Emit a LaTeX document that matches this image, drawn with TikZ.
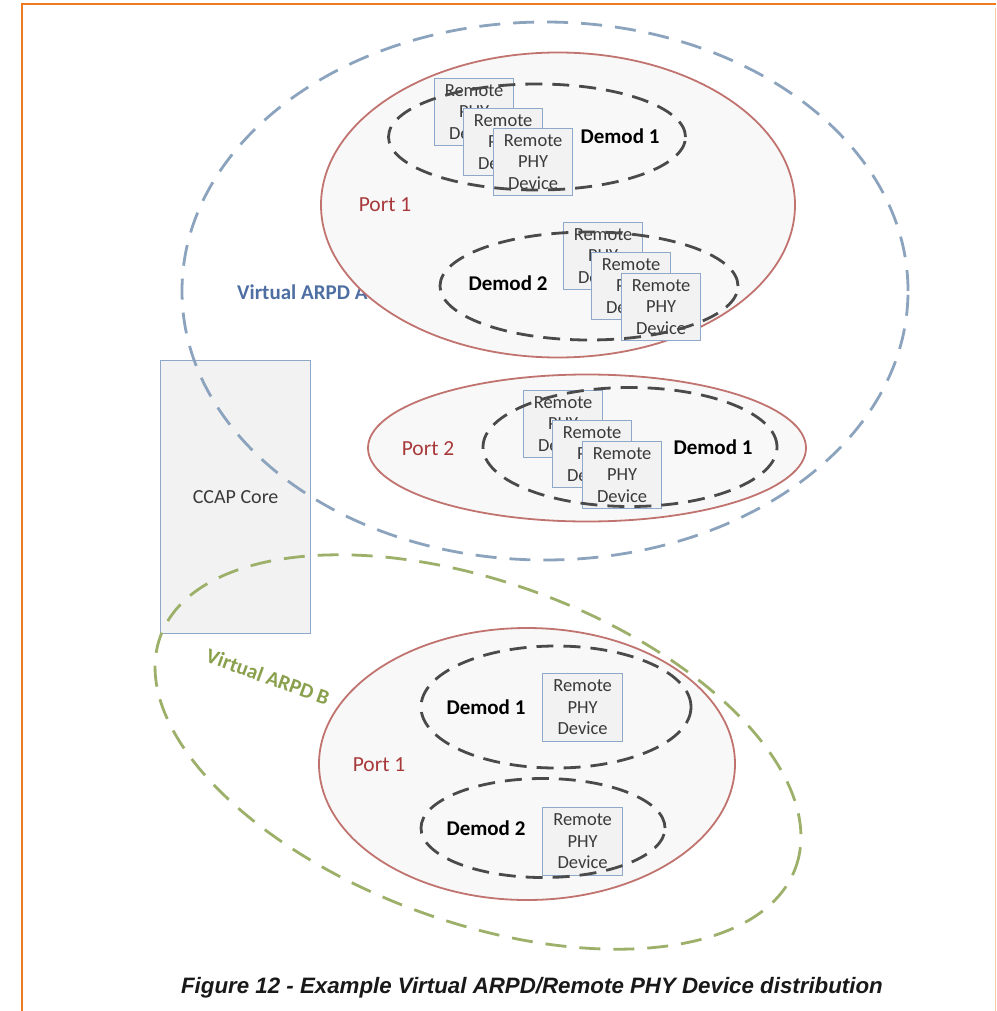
\documentclass[tikz,border=0pt]{standalone}
\usepackage{fontspec}
\setmainfont{Carlito}
\newfontfamily\capfont{Liberation Sans}
\usetikzlibrary{shapes.geometric}

\definecolor{frameorange}{HTML}{EE7B1F}
\definecolor{frameright}{HTML}{F6CBA5}
\definecolor{vblue}{HTML}{8CA3BE}
\definecolor{vgreen}{HTML}{9CB06A}
\definecolor{vbluetext}{HTML}{4F6FA2}
\definecolor{vgreentext}{HTML}{89A04C}
\definecolor{portred}{HTML}{C0736F}
\definecolor{porttext}{HTML}{A8393A}
\definecolor{portfill}{HTML}{F8F8F8}
\definecolor{demodgray}{HTML}{4A4A4A}
\definecolor{rpdblue}{HTML}{8EA8C9}
\definecolor{boxfill}{HTML}{F2F2F2}
\definecolor{boxtext}{HTML}{3A3A3A}

\begin{document}
\begin{tikzpicture}[x=1pt,y=-1pt,
  vgroup/.style={ellipse, inner sep=0pt, line width=2.8pt, dash pattern=on 21pt off 13pt},
  port/.style={ellipse, inner sep=0pt, draw=portred, line width=1.8pt, fill=portfill},
  demod/.style={ellipse, inner sep=0pt, draw=demodgray, line width=2.8pt, dash pattern=on 17pt off 10pt},
  rpd/.style={rectangle, draw=rpdblue, fill=boxfill, line width=1.2pt, anchor=north west,
    minimum width=79pt, minimum height=67pt, inner sep=0pt, align=center, text=boxtext,
    font=\fontsize{18.5}{21.5}\selectfont},
  demodlbl/.style={font=\bfseries\fontsize{21}{24}\selectfont, text=black},
  portlbl/.style={font=\fontsize{21.5}{24}\selectfont, text=porttext},
  vlbl/.style={font=\bfseries\fontsize{21}{24}\selectfont}
]
\useasboundingbox (0,0) rectangle (996,1011);

% page frame
\coordinate (ftl) at (22,4);
\coordinate (ftr) at (996,4);
\coordinate (fbl) at (22,1011);
\coordinate (fr1) at (995,8);
\coordinate (fr2) at (995,1011);
\draw[frameright, line width=1pt] (fr1) -- (fr2);
\draw[frameorange, line width=2.2pt] (ftr) -- (ftl) -- (fbl);

% CCAP core
\node[rectangle, draw=rpdblue, fill=boxfill, line width=1.2pt, anchor=north west,
  minimum width=150pt, minimum height=273pt, inner sep=0pt] (ccap) at (160,360) {};
\node[font=\fontsize{20}{23}\selectfont, text=boxtext] (ccaplbl) at (ccap.center) {CCAP Core};

% group labels (the port ellipse is drawn over the end of the first one)
\node[vlbl, text=vbluetext, anchor=west, inner sep=0pt] (vAlbl) at (237,292) {Virtual ARPD A};
\node[vlbl, text=vgreentext, rotate=-20, inner sep=0pt] (vBlbl) at (268,677) {Virtual ARPD B};

% ports
\node[port, minimum width=474pt, minimum height=305pt] (pA1) at (558,205) {};
\node[port, minimum width=438pt, minimum height=147pt] (pA2) at (587,448) {};
\node[port, minimum width=416pt, minimum height=272pt] (pB1) at (527,764) {};

\node[portlbl] (pA1lbl) at (385,205) {Port 1};
\node[portlbl] (pA2lbl) at (428,449) {Port 2};
\node[portlbl] (pB1lbl) at (379,765) {Port 1};

% demod labels
\node[demodlbl] (dA1lbl) at (620,136) {Demod 1};
\node[demodlbl] (dA2lbl) at (508,283) {Demod 2};
\node[demodlbl] (dA3lbl) at (713,447) {Demod 1};
\node[demodlbl] (dB1lbl) at (486,707) {Demod 1};
\node[demodlbl] (dB2lbl) at (486,828) {Demod 2};

% remote PHY devices
\node[rpd] (rA1a) at (434,78)  {Remote\\PHY\\Device};
\node[rpd] (rA1b) at (463,108) {Remote\\PHY\\Device};
\node[rpd] (rA1c) at (493,128) {Remote\\PHY\\Device};

\node[rpd] (rA2a) at (563,222) {Remote\\PHY\\Device};
\node[rpd] (rA2b) at (591,252) {Remote\\PHY\\Device};
\node[rpd] (rA2c) at (621,273) {Remote\\PHY\\Device};

\node[rpd] (rA3a) at (523,390) {Remote\\PHY\\Device};
\node[rpd] (rA3b) at (552,420) {Remote\\PHY\\Device};
\node[rpd] (rA3c) at (582,441) {Remote\\PHY\\Device};

\node[rpd, minimum width=80pt, minimum height=68pt] (rB1) at (542,673) {Remote\\PHY\\Device};
\node[rpd, minimum width=80pt, minimum height=68pt] (rB2) at (542,807) {Remote\\PHY\\Device};

% demodulator groups
\node[demod, minimum width=297pt, minimum height=106pt] (dA1) at (537,137) {};
\node[demod, minimum width=298pt, minimum height=108pt] (dA2) at (589,286) {};
\node[demod, minimum width=294pt, minimum height=119pt] (dA3) at (630,447) {};
\node[demod, minimum width=270pt, minimum height=122pt] (dB1) at (556,707) {};
\node[demod, minimum width=244pt, minimum height=99pt]  (dB2) at (543,828) {};

% virtual ARPD groups
\node[vgroup, draw=vblue, minimum width=726pt, minimum height=538pt] (vA) at (545,291) {};
\node[vgroup, draw=vgreen, minimum width=676pt, minimum height=340pt, rotate=-20] (vB) at (478,752) {};

% caption
\node[font=\capfont\bfseries\itshape\fontsize{22.3}{26}\selectfont, text=black!90] (cap) at (532,988)
  {Figure 12 - Example Virtual ARPD/Remote PHY Device distribution};
\end{tikzpicture}
\end{document}
